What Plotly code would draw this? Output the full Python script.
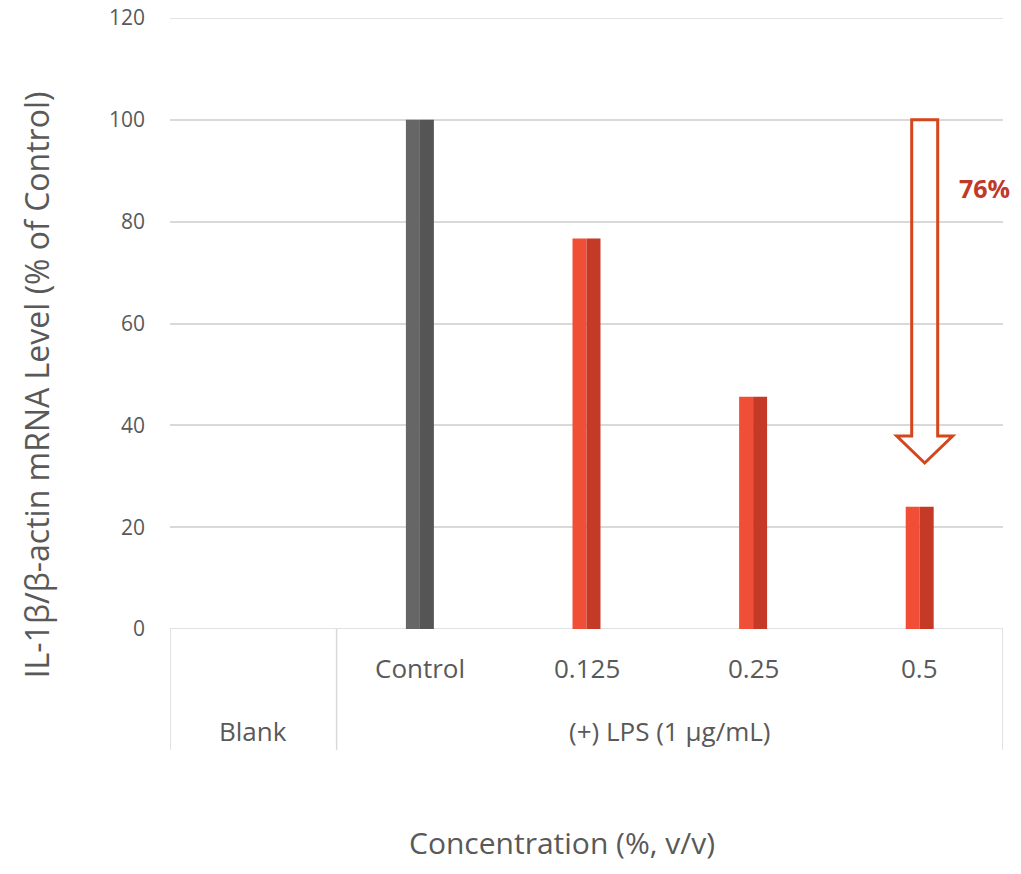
import plotly.graph_objects as go

categories = ["Blank", "Control", "0.125", "0.25", "0.5"]
values = [0, 100, 76.7, 45.6, 24.0]
group_label = "(+) LPS (1 μg/mL)"
y_ticks = [0, 20, 40, 60, 80, 100, 120]
reduction_label = "76%"

FONT = "Open Sans"
TXT = "#595959"
GRID = "#d9d9d9"

xs = list(range(len(categories)))
left_cols = ["#666666" if c in ("Blank", "Control") else "#f04e37" for c in categories]
right_cols = ["#555555" if c in ("Blank", "Control") else "#c43a27" for c in categories]
half = 0.084

fig = go.Figure()
fig.add_trace(go.Bar(x=xs, y=values, width=half, offset=-half,
                     marker=dict(color=left_cols, line=dict(width=0)), hoverinfo="skip"))
fig.add_trace(go.Bar(x=xs, y=values, width=half, offset=0,
                     marker=dict(color=right_cols, line=dict(width=0)), hoverinfo="skip"))

# hollow down arrow from control level to above the last bar
ax = xs[-1] + 0.03
top = values[1]
tip = values[-1] + 8.6
neck = tip + 5.3
sw, hw = 0.078, 0.168
path = (f"M {ax-sw},{top} L {ax+sw},{top} L {ax+sw},{neck} L {ax+hw},{neck} "
        f"L {ax},{tip} L {ax-hw},{neck} L {ax-sw},{neck} Z")

shapes = []
for yv in (y_ticks[0], y_ticks[-1]):
    shapes.append(dict(type="line", xref="paper", yref="y", x0=0, x1=1, y0=yv, y1=yv,
                       layer="below", line=dict(color=GRID, width=1.5)))
shapes.append(dict(type="path", path=path, xref="x", yref="y",
                   line=dict(color="#d4461c", width=3), fillcolor="rgba(0,0,0,0)"))

# category table dividers
for xv in [-0.5, 0.5, 4.5]:
    shapes.append(dict(type="line", xref="x", yref="paper", x0=xv, x1=xv, y0=0, y1=-0.198,
                       line=dict(color=GRID, width=1.5)))

annotations = []
for i, c in enumerate(categories):
    yy = -0.167 if c == "Blank" else -0.0638
    annotations.append(dict(x=i, y=yy, xref="x", yref="paper", text=c, showarrow=False,
                            xanchor="center", yanchor="middle",
                            font=dict(family=FONT, size=26, color=TXT)))
annotations.append(dict(x=2.5, y=-0.167, xref="x", yref="paper", text=group_label, showarrow=False,
                        xanchor="center", yanchor="middle",
                        font=dict(family=FONT, size=26, color=TXT)))
annotations.append(dict(x=-0.16, y=0.40, xref="paper", yref="paper",
                        text="IL-1β/β-actin mRNA Level (% of Control)", textangle=-90,
                        xanchor="center", yanchor="middle",
                        showarrow=False, font=dict(family=FONT, size=32, color=TXT)))
annotations.append(dict(x=0.4706, y=-0.35, xref="paper", yref="paper",
                        text="Concentration (%, v/v)", showarrow=False,
                        xanchor="center", yanchor="middle",
                        font=dict(family=FONT, size=30, color=TXT)))
annotations.append(dict(x=4.39, y=86.6, xref="x", yref="y", text=f"<b>{reduction_label}</b>",
                        xanchor="center", yanchor="middle",
                        showarrow=False, font=dict(family=FONT, size=25, color="#c0392b")))

fig.update_layout(
    width=1005, height=858,
    margin=dict(l=162, r=10, t=10, b=237, autoexpand=False),
    plot_bgcolor="white", paper_bgcolor="white",
    barmode="overlay", showlegend=False,
    shapes=shapes, annotations=annotations,
    xaxis=dict(range=[-0.5, 4.5], showticklabels=False, showgrid=False, zeroline=False,
               showline=False, ticks="", automargin=False),
    yaxis=dict(range=[0, 120], tickvals=y_ticks, showgrid=True, gridcolor=GRID, gridwidth=1.5,
               zeroline=False, showline=False, ticks="", automargin=False,
               ticklabeloverflow="allow",
               tickfont=dict(family=FONT, size=21, color=TXT), ticklabelstandoff=24),
)

fig.write_html("out.html")
